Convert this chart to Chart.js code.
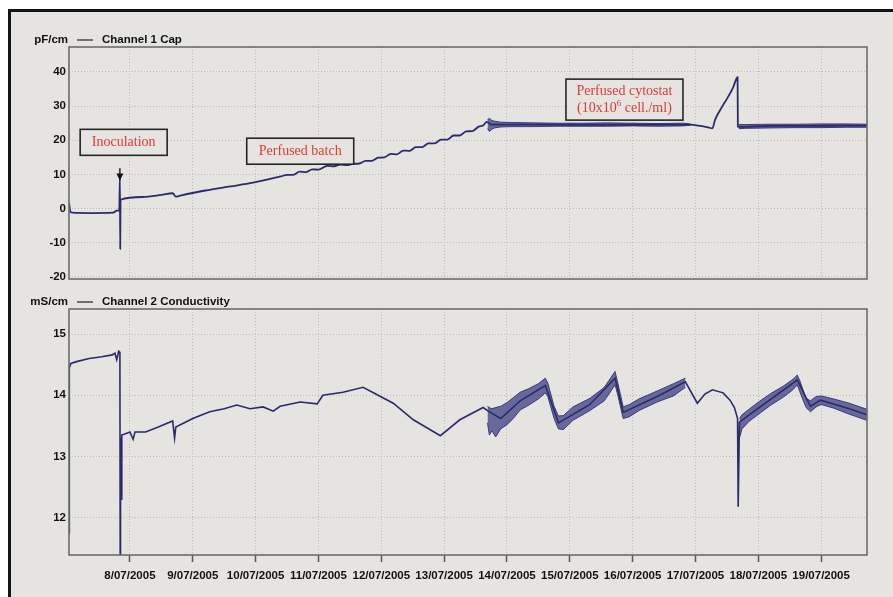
<!DOCTYPE html>
<html>
<head>
<meta charset="utf-8">
<script src="https://cdn.jsdelivr.net/npm/chart.js@4.4.0/dist/chart.umd.min.js"></script>
<style>
  html, body { margin: 0; padding: 0; background: #fff; }
  body { width: 893px; height: 597px; position: relative; overflow: hidden; }
  #frame { position: absolute; left: 8px; top: 9px; right: 0; bottom: 0; background: #e6e4e1;
           border-left: 3px solid #141414; border-top: 3px solid #141414; }
  .holder { position: absolute; left: 0; width: 893px; }
</style>
</head>
<body>
<div id="frame"></div>
<div class="holder" style="top:0;height:300px"><canvas id="capChart"></canvas></div>
<div class="holder" style="top:285px;height:312px"><canvas id="condChart"></canvas></div>

<script>
// ==== Axes
const dayTicks = [8, 9, 10, 11, 12, 13, 14, 15, 16, 17, 18, 19];
const dayLabels = ["8/07/2005", "9/07/2005", "10/07/2005", "11/07/2005", "12/07/2005", "13/07/2005",
  "14/07/2005", "15/07/2005", "16/07/2005", "17/07/2005", "18/07/2005", "19/07/2005"];
const capTicks = [-20, -10, 0, 10, 20, 30, 40];
const condTicks = [12, 13, 14, 15];

// ==== Channel 1 Cap (pF/cm) : day of July, value
const capX = [7.03, 7.05, 7.08, 7.40, 7.73, 7.79, 7.83, 7.84, 7.845, 7.85, 8.20, 8.50, 8.68, 8.73, 8.80,
  9.20, 9.60, 9.96, 10.40, 10.50, 10.60, 10.70, 10.80, 10.90, 11.00, 11.14, 11.25, 11.35, 11.45, 11.55,
  11.65, 11.75, 11.85, 11.95, 12.05, 12.15, 12.25, 12.35, 12.45, 12.55, 12.65, 12.75, 12.85, 12.95,
  13.05, 13.15, 13.25, 13.35, 13.45, 13.55, 13.62, 13.68, 13.75, 14.50, 15.50, 16.50, 16.92, 17.05,
  17.20, 17.27, 17.31, 17.43, 17.51, 17.60, 17.67, 17.675, 17.72, 18.20, 18.80, 19.30, 19.73];
const capY = [1.8, -0.8, -1.2, -1.3, -1.2, -0.6, -0.5, 9.1, -11.8, 2.6, 3.4, 4.0, 4.5, 3.5, 3.8,
  5.3, 6.5, 7.6, 9.4, 9.9, 9.9, 10.8, 10.7, 11.5, 11.4, 12.5, 12.4, 12.9, 12.7, 13.1,
  13.2, 14.0, 14.0, 14.9, 15.0, 16.0, 15.9, 17.0, 16.9, 18.0, 18.0, 19.1, 19.1, 20.2,
  20.2, 21.4, 21.4, 22.6, 22.7, 24.0, 24.3, 25.4, 24.6, 24.6, 24.5, 24.6, 24.6, 24.3,
  23.8, 23.5, 25.9, 30.0, 32.4, 35.5, 38.5, 24.0, 23.9, 24.2, 24.2, 24.3, 24.3];
// noisy stretches: [day, low, high]
const capNoiseA = [[13.69, 23.4, 26.0], [13.72, 22.6, 26.4], [13.76, 23.2, 25.8], [13.80, 23.6, 25.6],
  [13.90, 23.9, 25.3], [14.10, 24.0, 25.2], [14.40, 24.0, 25.1], [14.80, 24.1, 25.0], [15.20, 24.1, 25.0],
  [15.60, 24.1, 25.1], [16.00, 24.2, 25.0], [16.40, 24.1, 24.9], [16.80, 24.2, 25.0], [16.92, 24.4, 24.8]];
const capNoiseB = [[17.69, 23.4, 24.6], [17.80, 23.5, 24.6], [18.20, 23.6, 24.7], [18.60, 23.7, 24.7],
  [19.00, 23.7, 24.8], [19.40, 23.8, 24.8], [19.73, 23.8, 24.7]];

// ==== Channel 2 Conductivity (mS/cm)
const condX = [7.03, 7.035, 7.06, 7.15, 7.35, 7.55, 7.72, 7.76, 7.79, 7.82, 7.84, 7.845, 7.85, 7.86, 7.87,
  7.95, 8.00, 8.05, 8.08, 8.25, 8.45, 8.68, 8.71, 8.73, 9.00, 9.27, 9.50, 9.70, 9.91, 10.12, 10.28,
  10.39, 10.71, 10.98, 11.07, 11.39, 11.71, 11.95, 12.19, 12.51, 12.94, 13.25, 13.62, 13.69, 13.90,
  14.21, 14.61, 14.82, 15.32, 15.72, 15.85, 16.39, 16.84, 17.03, 17.15, 17.27, 17.44, 17.55, 17.62,
  17.67, 17.68, 17.70, 18.03, 18.62, 18.83, 18.99, 19.45, 19.73];
const condY = [11.75, 14.45, 14.52, 14.55, 14.60, 14.63, 14.66, 14.69, 14.58, 14.72, 14.70, 11.20, 13.30, 12.30, 13.35,
  13.38, 13.40, 13.28, 13.40, 13.40, 13.48, 13.58, 13.30, 13.48, 13.62, 13.73, 13.78, 13.84, 13.78, 13.81, 13.74,
  13.82, 13.89, 13.86, 14.00, 14.05, 14.13, 14.00, 13.87, 13.60, 13.34, 13.60, 13.80, 13.75, 13.62,
  13.91, 14.16, 13.55, 13.85, 14.28, 13.72, 13.98, 14.22, 13.87, 14.02, 14.09, 14.04, 13.92, 13.80,
  13.62, 12.18, 13.56, 13.81, 14.25, 13.82, 13.92, 13.78, 13.68];
const condNoiseA = [[13.69, 13.55, 13.82], [13.72, 13.35, 13.80], [13.76, 13.42, 13.78], [13.82, 13.32, 13.80],
  [13.90, 13.45, 13.82], [14.00, 13.52, 13.88], [14.10, 13.62, 13.96], [14.21, 13.76, 14.05], [14.35, 13.84, 14.11],
  [14.50, 13.94, 14.19], [14.61, 14.04, 14.28], [14.65, 13.98, 14.20], [14.75, 13.62, 13.82], [14.82, 13.45, 13.66],
  [14.90, 13.44, 13.67], [15.05, 13.59, 13.81], [15.32, 13.75, 13.95], [15.55, 13.91, 14.13], [15.72, 14.17, 14.39],
  [15.76, 14.02, 14.22], [15.85, 13.62, 13.81], [15.95, 13.65, 13.85], [16.10, 13.75, 13.94], [16.39, 13.89, 14.07],
  [16.65, 13.99, 14.19], [16.84, 14.13, 14.28]];
const condNoiseB = [[17.70, 13.30, 13.62], [17.74, 13.45, 13.68], [17.85, 13.57, 13.77], [18.03, 13.71, 13.91],
  [18.20, 13.84, 14.03], [18.40, 13.97, 14.15], [18.55, 14.09, 14.26], [18.62, 14.17, 14.33], [18.66, 14.06, 14.24],
  [18.76, 13.80, 13.95], [18.83, 13.73, 13.91], [18.92, 13.81, 13.98], [19.00, 13.85, 13.99], [19.20, 13.79, 13.94],
  [19.45, 13.69, 13.87], [19.73, 13.59, 13.77]];

// ==== Styles
const LINE = "#2b2b6c";
const BAND_LINE = "rgba(48,48,118,0.9)";
const BAND_FILL = "rgba(55,55,128,0.72)";
const FONT = "'Liberation Sans', Arial, sans-serif";
Chart.defaults.font.family = FONT;
Chart.defaults.color = "#111";

// ==== Helpers
function pairs(xs, ys) {
  return xs.map((x, i) => ({ x: x, y: ys[i] }));
}

function band(rows) {
  return [
    { data: rows.map(r => ({ x: r[0], y: r[2] })), borderColor: BAND_LINE, borderWidth: 1,
      pointRadius: 0, fill: false },
    { data: rows.map(r => ({ x: r[0], y: r[1] })), borderColor: BAND_LINE, borderWidth: 1,
      pointRadius: 0, fill: "-1", backgroundColor: BAND_FILL },
  ];
}

// frame around the plot + "unit — name" header
const frameAndHeader = {
  id: "frameAndHeader",
  afterDraw(chart, args, opts) {
    const { ctx, chartArea: a } = chart;
    ctx.save();
    ctx.strokeStyle = "#6c6c6c";
    ctx.lineWidth = 1.6;
    ctx.strokeRect(a.left, a.top, a.right - a.left, a.bottom - a.top);
    const y = a.top - 7;
    ctx.fillStyle = "#111";
    ctx.font = "bold 11.5px " + FONT;
    ctx.textBaseline = "middle";
    ctx.textAlign = "right";
    ctx.fillText(opts.unit, 68, y);
    ctx.beginPath();
    ctx.moveTo(77, y);
    ctx.lineTo(93, y);
    ctx.lineWidth = 1.2;
    ctx.strokeStyle = "#222";
    ctx.stroke();
    ctx.textAlign = "left";
    ctx.fillText(opts.name, 102, y);
    ctx.restore();
  },
};

// boxed red notes on the Cap chart
const notes = {
  id: "notes",
  afterDatasetsDraw(chart) {
    const { ctx, scales: { x, y } } = chart;
    const boxes = [
      { day: 7.90, val: 19.4, w: 87, h: 26, lines: ["Inoculation"] },
      { day: 10.71, val: 16.8, w: 107, h: 26, lines: ["Perfused batch"] },
      { day: 15.87, val: 31.9, w: 117, h: 41, lines: ["Perfused cytostat", null] },
    ];
    ctx.save();
    boxes.forEach(b => {
      const cx = x.getPixelForValue(b.day);
      const cy = y.getPixelForValue(b.val);
      ctx.fillStyle = "#e6e4e1";
      ctx.fillRect(cx - b.w / 2, cy - b.h / 2, b.w, b.h);
      ctx.strokeStyle = "#262626";
      ctx.lineWidth = 1.6;
      ctx.strokeRect(cx - b.w / 2, cy - b.h / 2, b.w, b.h);
      ctx.fillStyle = "#de3a34";
      ctx.textBaseline = "middle";
      const main = "14px 'Liberation Serif', 'Times New Roman', serif";
      const small = "9px 'Liberation Serif', 'Times New Roman', serif";
      if (b.lines.length === 1) {
        ctx.font = main;
        ctx.textAlign = "center";
        ctx.fillText(b.lines[0], cx, cy);
      } else {
        ctx.font = main;
        ctx.textAlign = "center";
        ctx.fillText(b.lines[0], cx, cy - 8);
        // second line with superscript 6
        const p1 = "(10x10", p2 = " cell./ml)";
        ctx.font = main;
        const w1 = ctx.measureText(p1).width, w3 = ctx.measureText(p2).width;
        ctx.font = small;
        const w2 = ctx.measureText("6").width;
        let sx = cx - (w1 + w2 + w3) / 2;
        ctx.textAlign = "left";
        ctx.font = main;
        ctx.fillText(p1, sx, cy + 9);
        ctx.font = small;
        ctx.fillText("6", sx + w1, cy + 4);
        ctx.font = main;
        ctx.fillText(p2, sx + w1 + w2, cy + 9);
      }
    });
    // arrow above the inoculation spike
    const ax = x.getPixelForValue(7.84);
    const y0 = y.getPixelForValue(11.8), y1 = y.getPixelForValue(8.2);
    ctx.strokeStyle = "#111";
    ctx.fillStyle = "#111";
    ctx.lineWidth = 1.4;
    ctx.beginPath();
    ctx.moveTo(ax, y0);
    ctx.lineTo(ax, y1 - 5);
    ctx.stroke();
    ctx.beginPath();
    ctx.moveTo(ax - 3.5, y1 - 7);
    ctx.lineTo(ax + 3.5, y1 - 7);
    ctx.lineTo(ax, y1);
    ctx.closePath();
    ctx.fill();
    ctx.restore();
  },
};

function xScale(showLabels) {
  return {
    type: "linear",
    min: 7.03,
    max: 19.73,
    afterBuildTicks: s => { s.ticks = dayTicks.map(v => ({ value: v })); },
    afterFit: s => { s.height = showLabels ? 42 : 0; },
    grid: {
      color: "#bcbcbc",
      lineWidth: 1,
      drawTicks: showLabels,
      tickLength: 7,
      tickColor: "#555",
      tickWidth: 1.5,
      tickBorderDash: [],
    },
    border: { display: false, dash: [1, 2] },
    ticks: {
      display: showLabels,
      autoSkip: false,
      maxRotation: 0,
      padding: 7,
      font: { size: 11.5, weight: "bold" },
      color: "#111",
      callback: v => dayLabels[dayTicks.indexOf(v)],
    },
  };
}

function yScale(min, max, tickList) {
  return {
    type: "linear",
    min: min,
    max: max,
    afterBuildTicks: s => { s.ticks = tickList.map(v => ({ value: v })); },
    afterFit: s => { s.width = 60; },
    grid: { color: "#bcbcbc", lineWidth: 1, drawTicks: false },
    border: { display: false, dash: [1, 2] },
    ticks: { padding: 3, font: { size: 11.5, weight: "bold" }, color: "#111" },
  };
}

function baseOptions(padTop, padBottom, unit, name, showLabels, yMin, yMax, ticks) {
  return {
    responsive: true,
    maintainAspectRatio: false,
    animation: false,
    layout: { padding: { left: 9, right: 26, top: padTop, bottom: padBottom } },
    plugins: {
      legend: { display: false },
      tooltip: { enabled: false },
      frameAndHeader: { unit: unit, name: name },
    },
    scales: { x: xScale(showLabels), y: yScale(yMin, yMax, ticks) },
  };
}

// ==== Charts
new Chart(document.getElementById("capChart").getContext("2d"), {
  type: "line",
  data: {
    datasets: [
      { data: pairs(capX, capY), borderColor: LINE, borderWidth: 1.8, pointRadius: 0, fill: false,
        cubicInterpolationMode: "monotone" },
      ...band(capNoiseA),
      ...band(capNoiseB),
    ],
  },
  options: baseOptions(47, 21, "pF/cm", "Channel 1 Cap", false, -20.6, 47.3, capTicks),
  plugins: [frameAndHeader, notes],
});

new Chart(document.getElementById("condChart").getContext("2d"), {
  type: "line",
  data: {
    datasets: [
      { data: pairs(condX, condY), borderColor: LINE, borderWidth: 1.6, pointRadius: 0, fill: false },
      ...band(condNoiseA),
      ...band(condNoiseB),
    ],
  },
  options: baseOptions(24, 0, "mS/cm", "Channel 2 Conductivity", true, 11.39, 15.41, condTicks),
  plugins: [frameAndHeader],
});
</script>
</body>
</html>
